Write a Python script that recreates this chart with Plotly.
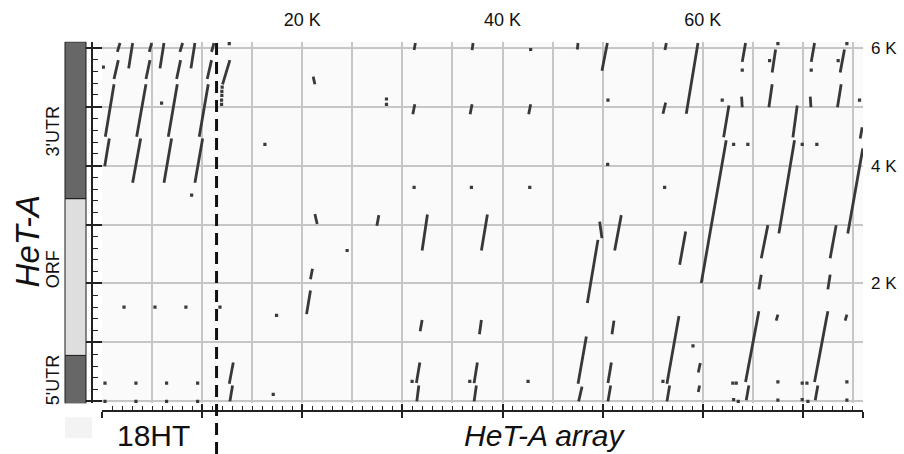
import plotly.graph_objects as go

# ---------------- data (kb) ----------------
# HeT-A element map drawn beside the y axis
REGION_NAMES = ["5'UTR", "ORF", "3'UTR"]
REGION_STARTS = [-0.04, 0.78, 3.44]
REGION_ENDS = [0.78, 3.44, 6.10]
REGION_LABEL_Y = [0.36, 2.24, 4.58]
REGION_FILLS = ["#676767", "#dedede", "#676767"]

ARRAY_TICKS = [20, 40, 60]
ARRAY_TICK_TEXT = ["20 K", "40 K", "60 K"]
HETA_TICKS = [2, 4, 6]
HETA_TICK_TEXT = ["2 K", "4 K", "6 K"]
BOUNDARY_18HT = 11.44  # end of 18HT on the array axis

# dot-plot match segments: (array_x0, heta_y0, array_x1, heta_y1)
SEGMENTS_18HT = [
    (1.80, 6.08, 1.53, 5.93), (3.06, 6.08, 2.66, 5.65), (4.96, 6.08, 4.72, 5.93),
    (6.19, 6.08, 5.79, 5.65), (8.05, 6.08, 7.78, 5.93), (9.28, 6.08, 8.88, 5.65),
    (11.18, 6.08, 10.94, 5.93),
    (1.63, 5.79, 1.20, 5.47), (1.20, 5.38, 0.33, 4.49), (0.73, 4.46, 0.27, 3.99),
    (4.79, 5.79, 4.39, 5.47), (4.39, 5.38, 3.46, 4.49), (3.86, 4.46, 3.06, 3.71),
    (7.85, 5.79, 7.45, 5.47), (7.52, 5.38, 6.62, 4.49), (6.95, 4.46, 6.19, 3.71),
    (10.94, 5.79, 10.51, 5.47), (10.61, 5.38, 9.71, 4.49), (10.05, 4.46, 9.28, 3.71),
    (12.77, 5.79, 12.04, 5.38),
]
SEGMENTS_MID = [
    (13.11, 0.66, 12.71, 0.30), (13.04, 0.27, 12.77, 0.00),
    (21.02, 2.25, 20.82, 2.07), (20.82, 1.88, 20.43, 1.48),
    (21.09, 5.51, 21.26, 5.38), (21.26, 3.18, 21.49, 3.01),
    (31.30, 6.08, 31.17, 5.96), (37.06, 6.08, 36.96, 5.96), (47.54, 6.08, 47.47, 5.97),
    (50.47, 6.08, 49.93, 5.61),
    (31.24, 5.04, 31.04, 4.87), (36.96, 5.04, 36.76, 4.87), (42.81, 5.04, 42.61, 4.87),
    (27.65, 3.16, 27.45, 2.98), (32.50, 3.17, 31.97, 2.56), (38.49, 3.17, 37.89, 2.56),
    (49.70, 3.05, 49.93, 2.77), (49.53, 2.74, 48.47, 1.67),
    (31.97, 1.38, 31.77, 1.19), (37.89, 1.38, 37.69, 1.14),
    (31.74, 0.66, 31.40, 0.31), (31.64, 0.27, 31.44, 0.00),
    (37.49, 0.66, 37.16, 0.31), (37.39, 0.27, 37.16, 0.00),
    (48.37, 1.10, 47.54, 0.30), (47.94, 0.25, 47.60, 0.00),
    (51.13, 1.37, 50.93, 1.14), (50.87, 0.66, 50.53, 0.31), (50.80, 0.27, 50.53, 0.00),
]
SEGMENTS_RIGHT = [
    (56.36, 6.08, 56.22, 5.96), (59.52, 6.08, 58.35, 4.88), (56.29, 5.07, 56.02, 4.88),
    (64.27, 6.08, 63.94, 5.76), (63.87, 5.17, 63.94, 4.99),
    (62.61, 5.02, 62.08, 4.48), (62.34, 4.43, 59.85, 2.01),
    (67.27, 5.97, 66.93, 5.58), (66.93, 5.38, 66.60, 4.99),
    (69.43, 5.02, 69.00, 4.48), (69.16, 4.43, 67.60, 2.85),
    (71.16, 6.08, 70.83, 5.76), (70.73, 5.17, 70.80, 4.99),
    (74.15, 5.97, 73.72, 5.58), (73.82, 5.38, 73.45, 4.99),
    (75.92, 4.65, 75.72, 4.46), (75.98, 4.29, 74.48, 2.85),
    (51.86, 3.16, 51.20, 2.56), (58.29, 2.88, 57.69, 2.32),
    (66.50, 2.99, 65.84, 2.43), (73.32, 2.99, 72.72, 2.43),
    (65.84, 2.15, 65.60, 1.90), (72.72, 2.15, 72.49, 1.90),
    (57.62, 1.45, 56.42, 0.30), (56.69, 0.27, 56.42, 0.00),
    (59.75, 0.65, 59.55, 0.49), (59.68, 0.27, 59.55, 0.16),
    (65.60, 1.53, 64.27, 0.33), (64.60, 0.27, 64.34, 0.02),
    (67.50, 1.47, 67.33, 1.37),
    (72.49, 1.53, 71.16, 0.33), (71.49, 0.27, 71.23, 0.02),
    (74.39, 1.47, 74.22, 1.37),
]
DOTS_X = [0.13, 5.95, 8.95, 12.71, 12.00, 11.97, 11.97, 11.94, 11.94,
          2.20, 5.29, 8.38, 11.78, 0.30, 3.39, 6.45, 9.55, 0.30, 3.39, 6.45, 9.55,
          17.43, 17.10, 24.48, 16.27,
          42.81, 28.41, 28.41, 50.53, 50.50, 31.17, 36.89, 42.72,
          30.97, 36.73, 42.55,
          63.94, 61.94, 63.08, 64.50, 67.50, 66.67, 69.93, 71.39, 70.83,
          74.39, 73.52, 75.65, 56.19, 56.02, 59.02,
          63.00, 63.34, 63.08, 63.54, 67.50, 67.50,
          69.93, 70.40, 69.93, 70.50, 74.39, 74.39]
DOTS_Y = [5.67, 5.06, 3.50, 6.07, 5.33, 5.26, 5.19, 5.11, 5.04,
          1.60, 1.60, 1.60, 1.60, 0.31, 0.31, 0.31, 0.31, 0.00, 0.00, 0.00, 0.00,
          1.46, 0.12, 2.56, 4.36,
          5.97, 5.13, 5.04, 5.11, 4.02, 3.63, 3.63, 3.63,
          0.34, 0.34, 0.34,
          5.62, 5.11, 4.36, 4.36, 6.07, 5.78, 4.36, 4.36, 5.62,
          6.07, 5.78, 5.11, 3.63, 0.34, 0.94,
          0.31, 0.31, 0.03, 0.00, 0.33, 0.02,
          0.31, 0.31, 0.03, 0.00, 0.33, 0.02]

X_RANGE = [0, 76]
Y_RANGE = [-0.03, 6.10]

# ---------------- figure ----------------
W, H = 904, 454
XD = [102 / W, 863 / W]
YD = [1 - 402.8 / H, 1 - 39.1 / H]
FONT = "Liberation Sans, Arial, sans-serif"
INK = "#222222"

seg_x, seg_y = [], []
for x0, y0, x1, y1 in SEGMENTS_18HT + SEGMENTS_MID + SEGMENTS_RIGHT:
    seg_x += [x0, x1, None]
    seg_y += [y0, y1, None]

fig = go.Figure()
fig.add_trace(go.Scatter(x=seg_x, y=seg_y, mode="lines",
                         line=dict(color="#383838", width=2.8),
                         hoverinfo="skip", showlegend=False))
fig.add_trace(go.Scatter(x=DOTS_X, y=DOTS_Y, mode="markers",
                         marker=dict(color="#3a3a3a", size=3.2, symbol="square"),
                         hoverinfo="skip", showlegend=False))
# carrier traces for the decorative overlay axes
for xa, ya in [("x2", "y"), ("x3", "y"), ("x4", "y"), ("x", "y2"), ("x", "y3"), ("x", "y4")]:
    fig.add_trace(go.Scatter(x=[None], y=[None], xaxis=xa, yaxis=ya, mode="lines",
                             showlegend=False, hoverinfo="skip"))

grid = dict(showgrid=True, gridcolor="#c6c6c6", gridwidth=1.5, zeroline=False,
            showticklabels=False, ticks="", showline=False)
layout = dict(
    width=W, height=H, margin=dict(l=0, r=0, t=0, b=0),
    paper_bgcolor="white", plot_bgcolor="#fafafa", showlegend=False,
    font=dict(family=FONT, color="#111111"),
    xaxis=dict(domain=XD, range=X_RANGE, dtick=5, tick0=0, **grid),
    yaxis=dict(domain=YD, range=Y_RANGE, dtick=1, tick0=0, **grid),
    # bottom ruler
    xaxis2=dict(overlaying="x", anchor="free", position=1 - 411 / H, range=X_RANGE,
                showgrid=False, zeroline=False, showticklabels=False,
                showline=True, linecolor=INK, linewidth=1.5,
                ticks="inside", ticklen=7, tickwidth=1.5, tickcolor=INK, dtick=10, tick0=0,
                minor=dict(ticks="inside", ticklen=5, tickwidth=1.2, tickcolor=INK, dtick=1, tick0=0)),
    xaxis3=dict(overlaying="x", anchor="free", position=1 - 411 / H, range=X_RANGE,
                showgrid=False, zeroline=False, showticklabels=False, showline=False,
                ticks="outside", ticklen=6, tickwidth=1.5, tickcolor=INK,
                tickvals=list(range(0, 80, 10)) + [76]),
    # top labels
    xaxis4=dict(overlaying="x", anchor="free", position=YD[1], side="top", range=X_RANGE,
                showgrid=False, zeroline=False, showline=False, ticks="",
                tickvals=ARRAY_TICKS, ticktext=ARRAY_TICK_TEXT,
                tickfont=dict(size=18, family=FONT, color="#111111"), ticklabelstandoff=12),
    # left ruler
    yaxis2=dict(overlaying="y", anchor="free", position=92 / W, side="left", range=Y_RANGE,
                showgrid=False, zeroline=False, showticklabels=False,
                showline=True, linecolor=INK, linewidth=1.5,
                ticks="inside", ticklen=9, tickwidth=1.5, tickcolor=INK, dtick=1, tick0=0,
                minor=dict(ticks="inside", ticklen=5, tickwidth=1.2, tickcolor=INK, dtick=0.2, tick0=0)),
    yaxis4=dict(overlaying="y", anchor="free", position=92 / W, side="left", range=Y_RANGE,
                showgrid=False, zeroline=False, showticklabels=False, showline=False,
                ticks="outside", ticklen=6, tickwidth=1.5, tickcolor=INK, dtick=1, tick0=0),
    # right labels
    yaxis3=dict(overlaying="y", anchor="free", position=XD[1], side="right", range=Y_RANGE,
                showgrid=False, zeroline=False, showline=False, ticks="",
                tickvals=HETA_TICKS, ticktext=HETA_TICK_TEXT,
                tickfont=dict(size=17, family=FONT, color="#111111"), ticklabelstandoff=7),
)
fig.update_layout(**layout)

shapes = []
for s, e, c in zip(REGION_STARTS, REGION_ENDS, REGION_FILLS):
    shapes.append(dict(type="rect", xref="paper", yref="y", x0=65 / W, x1=86 / W, y0=s, y1=e,
                       fillcolor=c, line=dict(color="#1a1a1a", width=1), layer="above"))
shapes.append(dict(type="rect", xref="paper", yref="paper", x0=65 / W, x1=92 / W,
                   y0=1 - 438 / H, y1=1 - 417 / H, fillcolor="#f3f3f3", line=dict(width=0)))
shapes.append(dict(type="line", xref="x", yref="paper", x0=BOUNDARY_18HT, x1=BOUNDARY_18HT,
                   y0=0, y1=YD[1], line=dict(color="#111111", width=3, dash="12px,7px"),
                   layer="above"))
fig.update_layout(shapes=shapes)

annotations = []
for name, ly in zip(REGION_NAMES, REGION_LABEL_Y):
    annotations.append(dict(text=name, xref="paper", yref="y", x=53 / W, y=ly, textangle=-90,
                            showarrow=False, font=dict(size=18, family=FONT, color="#111111"),
                            xanchor="center", yanchor="middle"))
annotations.append(dict(text="<i>HeT-A</i>", xref="paper", yref="paper", x=27 / W, y=1 - 240 / H,
                        textangle=-90, showarrow=False,
                        font=dict(size=33, family=FONT, color="#111111"),
                        xanchor="center", yanchor="middle"))
annotations.append(dict(text="18HT", xref="paper", yref="paper", x=153.5 / W, y=1 - 435 / H,
                        showarrow=False, font=dict(size=30, family=FONT, color="#111111"),
                        xanchor="center", yanchor="middle"))
annotations.append(dict(text="<i>HeT-A array</i>", xref="paper", yref="paper", x=544 / W,
                        y=1 - 435 / H, showarrow=False,
                        font=dict(size=30, family=FONT, color="#111111"),
                        xanchor="center", yanchor="middle"))
fig.update_layout(annotations=annotations)

fig.write_html("out.html", config={"displayModeBar": False},
               post_script="document.body.style.margin='0';document.body.style.overflow='hidden';")
